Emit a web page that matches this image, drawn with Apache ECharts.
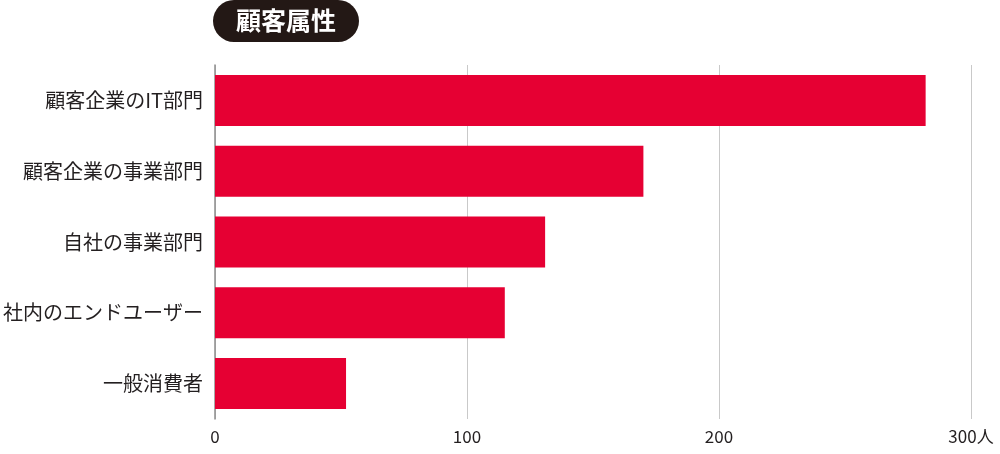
<!DOCTYPE html>
<html>
<head>
<meta charset="utf-8">
<style>
  html, body { margin: 0; padding: 0; background: #fff; }
  #chart { width: 1000px; height: 454px; }
</style>
<script src="https://cdn.jsdelivr.net/npm/echarts@6/dist/echarts.min.js"></script>
</head>
<body>
<div id="chart"></div>
<script>
// 項目（上から順）
var categories = ["顧客企業のIT部門", "顧客企業の事業部門", "自社の事業部門", "社内のエンドユーザー", "一般消費者"];
// 人数
var values = [282, 170, 131, 115, 52];
// 目盛り
var tickMax = 300;
var tickStep = 100;
var unitLabel = "人";

var chart = echarts.init(document.getElementById("chart"));
var fontCJK = "'Noto Sans CJK JP', 'Noto Sans', sans-serif";

chart.setOption({
  animation: false,
  title: {
    text: "顧客属性",
    left: 213,
    top: 0,
    padding: [5, 23, 6, 23],
    backgroundColor: "#231815",
    borderRadius: 21,
    textStyle: {
      color: "#ffffff",
      fontSize: 25,
      fontWeight: "bold",
      fontFamily: fontCJK,
      lineHeight: 31
    }
  },
  grid: {
    left: 214.5,
    right: 29,
    top: 65,
    bottom: 35,
    containLabel: false
  },
  xAxis: {
    type: "value",
    min: 0,
    max: tickMax,
    interval: tickStep,
    axisLine: { show: false },
    axisTick: { show: false },
    splitLine: { lineStyle: { color: "#c9c9c9", width: 1 } },
    axisLabel: {
      margin: 9,
      color: "#231f20",
      fontSize: 17,
      fontFamily: fontCJK
      ,
      formatter: function (v) {
        return v === tickMax ? v + unitLabel : String(v);
      }
    }
  },
  yAxis: {
    type: "category",
    data: categories,
    inverse: true,
    axisLine: { show: true, lineStyle: { color: "#8c8c8c", width: 1.5 } },
    axisTick: { show: false },
    axisLabel: {
      margin: 12,
      color: "#231f20",
      fontSize: 20,
      fontFamily: fontCJK
    }
  },
  series: [
    {
      type: "bar",
      data: values,
      barCategoryGap: "28%",
      itemStyle: { color: "#e60033" }
    }
  ]
});
</script>
</body>
</html>
